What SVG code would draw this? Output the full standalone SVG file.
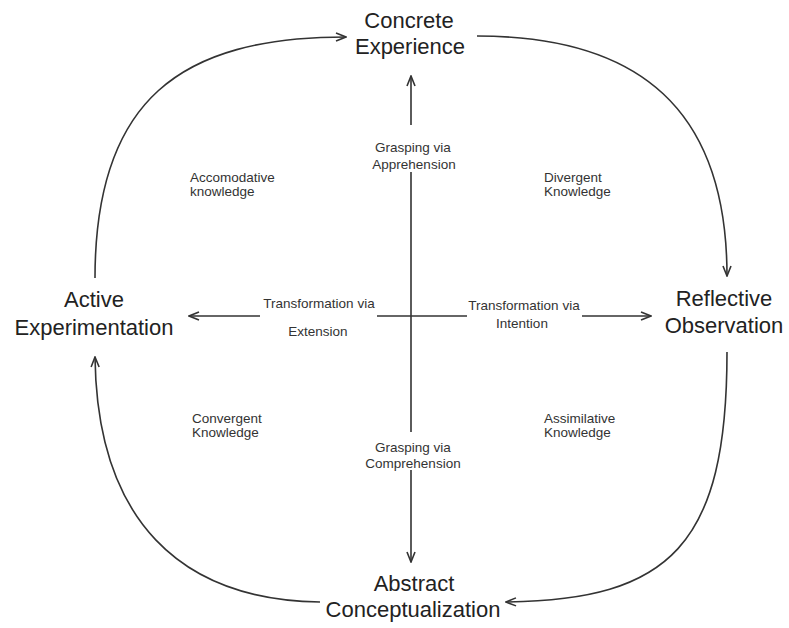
<svg xmlns="http://www.w3.org/2000/svg" width="789" height="628" viewBox="0 0 789 628">
  <style>
    .stage { font-family: "Liberation Sans", Arial, sans-serif; font-size: 22px; fill: #222; text-anchor: middle; }
    .axis { font-family: "Liberation Sans", Arial, sans-serif; font-size: 13.5px; fill: #333; text-anchor: middle; }
    .quad { font-family: "Liberation Sans", Arial, sans-serif; font-size: 13.5px; fill: #333; }
    .link { fill: none; stroke: #333; stroke-width: 1.6; }
  </style>
  <defs>
    <marker id="head" viewBox="0 0 12 10" refX="11" refY="5" markerWidth="12" markerHeight="10" markerUnits="userSpaceOnUse" orient="auto">
      <path d="M1,1 L11,5 L1,9" fill="none" stroke="#333" stroke-width="1.6"/>
    </marker>
  </defs>
  <rect width="789" height="628" fill="#fff"/>

  <!-- learning cycle arcs and the two axes -->
  <g id="connectors">
    <path class="link" d="M95,278 C95,100 180,37 346,37" marker-end="url(#head)"/>
    <path class="link" d="M477,36 C640,36 727,110 727,276" marker-end="url(#head)"/>
    <path class="link" d="M727,352 C727,545 670,600 506,602" marker-end="url(#head)"/>
    <path class="link" d="M320,602 C180,600 97,520 95,357" marker-end="url(#head)"/>

    <!-- grasping axis -->
    <path class="link" d="M411,125 L411,76" marker-end="url(#head)"/>
    <path class="link" d="M411,172 L411,432"/>
    <path class="link" d="M411,470 L411,562" marker-end="url(#head)"/>

    <!-- transformation axis -->
    <path class="link" d="M260,316 L189,316" marker-end="url(#head)"/>
    <path class="link" d="M377,316 L467,316"/>
    <path class="link" d="M582,316 L651,316" marker-end="url(#head)"/>
  </g>

  <g id="concrete-experience">
    <text class="stage" x="409" y="28">Concrete</text>
    <text class="stage" x="410" y="54">Experience</text>
  </g>
  <g id="reflective-observation">
    <text class="stage" x="724" y="306">Reflective</text>
    <text class="stage" x="724" y="333">Observation</text>
  </g>
  <g id="abstract-conceptualization">
    <text class="stage" x="414" y="591">Abstract</text>
    <text class="stage" x="413" y="617">Conceptualization</text>
  </g>
  <g id="active-experimentation">
    <text class="stage" x="94" y="307">Active</text>
    <text class="stage" x="94" y="335">Experimentation</text>
  </g>

  <g id="grasping-apprehension">
    <text class="axis" x="413" y="152">Grasping via</text>
    <text class="axis" x="414" y="169">Apprehension</text>
  </g>
  <g id="grasping-comprehension">
    <text class="axis" x="413" y="452">Grasping via</text>
    <text class="axis" x="413" y="468">Comprehension</text>
  </g>
  <g id="transformation-extension">
    <text class="axis" x="319" y="308">Transformation via</text>
    <text class="axis" x="318" y="336">Extension</text>
  </g>
  <g id="transformation-intention">
    <text class="axis" x="524" y="310">Transformation via</text>
    <text class="axis" x="522" y="328">Intention</text>
  </g>

  <g id="accomodative">
    <text class="quad" x="190" y="182">Accomodative</text>
    <text class="quad" x="190" y="196">knowledge</text>
  </g>
  <g id="divergent">
    <text class="quad" x="544" y="182">Divergent</text>
    <text class="quad" x="544" y="196">Knowledge</text>
  </g>
  <g id="convergent">
    <text class="quad" x="192" y="423">Convergent</text>
    <text class="quad" x="192" y="437">Knowledge</text>
  </g>
  <g id="assimilative">
    <text class="quad" x="544" y="423">Assimilative</text>
    <text class="quad" x="544" y="437">Knowledge</text>
  </g>
</svg>
